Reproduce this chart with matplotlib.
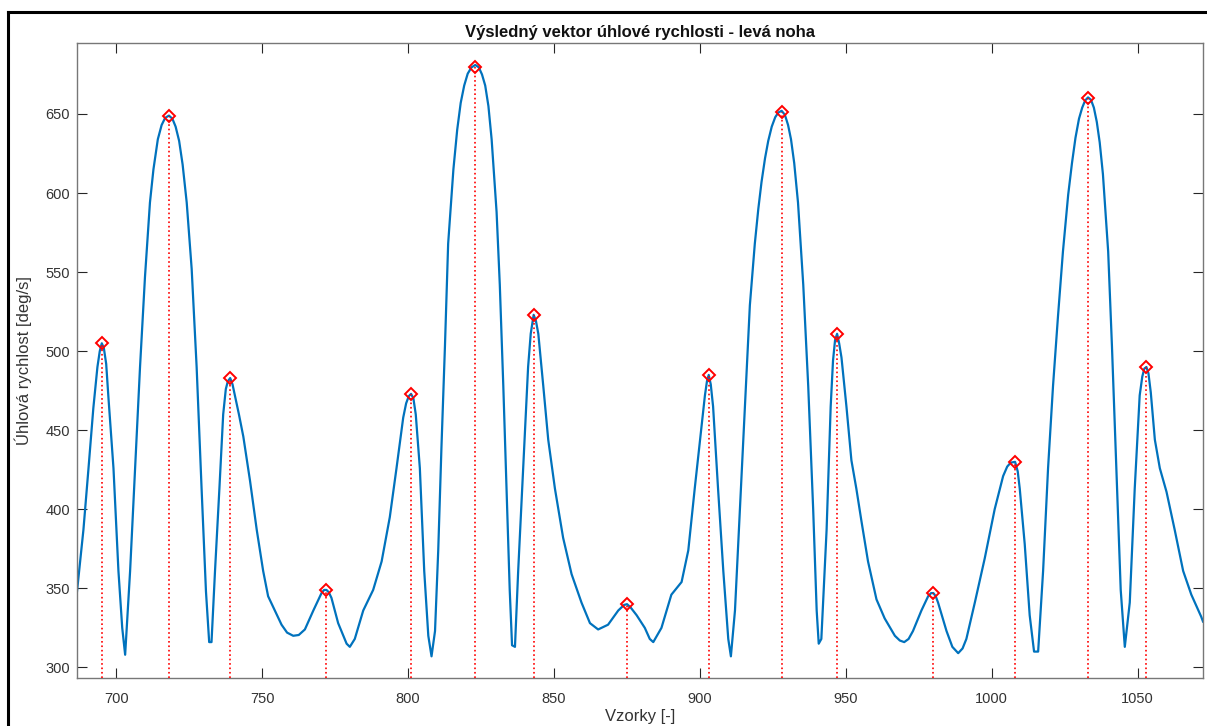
import matplotlib
matplotlib.use("Agg")
import matplotlib.pyplot as plt
from matplotlib.lines import Line2D

plt.rcParams['font.family'] = ['Liberation Sans', 'DejaVu Sans']

# Curve samples: (sample index, angular velocity [deg/s])
curve_points = [
    (686.5, 348), (688.7, 387), (690.4, 425), (692.1, 464), (693.5, 490), (694.3, 500),
    (695, 505), (695.7, 502), (696.5, 492), (697.3, 470), (699, 426), (700.7, 361),
    (702, 325), (703, 308), (704.7, 361), (706.4, 426), (708.1, 490), (709.8, 547),
    (711.5, 594), (712.7, 615), (714.2, 634), (715.5, 643), (716.7, 647.5), (718, 649),
    (719.2, 647), (720.3, 642), (721.5, 633), (722.7, 618), (724.1, 594), (725.8, 552),
    (727.5, 490), (729.2, 413), (730.7, 348), (731.8, 316), (732.6, 316), (733.8, 361),
    (735.3, 413), (736.6, 460), (737.5, 476), (738.2, 481), (739, 483), (739.8, 479),
    (740.6, 472), (742, 460), (743.5, 446), (745.8, 418), (748.1, 387), (750.3, 361),
    (752, 345), (754.3, 336), (756.6, 327), (758.5, 322), (760.6, 320), (762.5, 320.5),
    (764.6, 324), (767.5, 336), (770.3, 347), (771.2, 349), (772, 349), (772.8, 347.5),
    (773.7, 344), (776, 328), (778.9, 315), (780, 313), (781.7, 318), (784.6, 336),
    (788, 349), (790.9, 367), (793.7, 395), (796, 426), (798.3, 458), (799.3, 467),
    (800.2, 471.5), (801, 473), (801.8, 470), (802.6, 460), (804, 426), (805.5, 361),
    (806.9, 320), (808, 307), (809.2, 323), (810.3, 374), (811.4, 439), (812.6, 503),
    (813.7, 568), (815.5, 615), (816.8, 640), (818, 657), (819.2, 668), (820.4, 675.5),
    (821.7, 679.5), (823, 681), (824.2, 679.5), (825.3, 675), (826.4, 668), (827.5, 655),
    (828.6, 634), (830.3, 588), (831.4, 542), (832.6, 478), (833.7, 413), (834.8, 349),
    (835.6, 314), (836.6, 313), (837.7, 361), (839.4, 426), (841.1, 490), (842, 511),
    (843, 523), (843.8, 519), (844.6, 511), (846.3, 478), (848, 444), (850.3, 413),
    (853.1, 382), (856, 359), (859.4, 341), (862.3, 328), (865.1, 324), (868.5, 327),
    (872, 336), (874, 339.5), (875, 340), (876.2, 338), (878.3, 333), (881.1, 325),
    (882.8, 318), (884, 316), (886.8, 325), (890.2, 346), (893.7, 354), (896, 374),
    (898.2, 413), (900.5, 452), (901.7, 472), (902.4, 481), (903, 485), (903.7, 479),
    (904.5, 465), (906.2, 413), (908, 361), (909.7, 318), (910.6, 307), (912, 336),
    (913.7, 400), (915.4, 465), (917.1, 529), (918.8, 568), (920, 590), (921.1, 607),
    (922.3, 622), (923.4, 633), (924.6, 642), (925.8, 648), (926.9, 651), (928, 652),
    (929.1, 649.5), (930.2, 643), (931.2, 634), (932.3, 619), (933.6, 594), (935.4, 542),
    (937.1, 478), (938.8, 400), (940, 336), (940.7, 315), (941.6, 318), (943.4, 387),
    (944.8, 465), (945.6, 494), (946.3, 507), (947, 511), (947.7, 505), (948.5, 496),
    (950.2, 465), (951.9, 431), (953.6, 413), (955.3, 393), (957.6, 367), (960.5, 343),
    (963.3, 331), (966.8, 320), (968.5, 317), (970, 316), (971.5, 318), (973, 323),
    (975.9, 336), (978.2, 345), (979.2, 347), (980, 347), (980.8, 345), (981.6, 341),
    (984.5, 323), (986.5, 313), (988.5, 309), (990, 312), (991.3, 318), (994.2, 341),
    (997.6, 369), (1001, 400), (1003.9, 421), (1005.3, 427), (1006.5, 429.5),
    (1008, 430), (1008.9, 424), (1009.6, 413), (1011.3, 378), (1013, 333), (1014.5, 310),
    (1015.9, 310), (1017.6, 361), (1019.3, 426), (1021, 478), (1022.7, 522),
    (1024.4, 563), (1026.2, 599), (1027.5, 619), (1028.7, 635), (1029.9, 647),
    (1031, 654), (1032, 658.5), (1033, 660.5), (1034, 659), (1035, 654), (1036, 645),
    (1037, 632), (1038.1, 612), (1039.9, 563), (1041.2, 503), (1042.7, 426),
    (1044.2, 349), (1045.6, 313), (1047.3, 341), (1049, 413), (1050.7, 472),
    (1051.6, 484), (1052.3, 489), (1053, 490), (1053.7, 486), (1054.5, 474),
    (1055.9, 444), (1057.6, 426), (1059.9, 411), (1062.7, 387), (1065.6, 361),
    (1068.4, 346), (1071.8, 332), (1072.4, 329),
]
sample_x = [p[0] for p in curve_points]
omega = [p[1] for p in curve_points]

# Detected peaks
peak_x = [695, 718, 739, 772, 801, 823, 843, 875, 903, 928, 947, 980, 1008, 1033, 1053]
peak_y = [505, 649, 483, 349, 473, 680, 523, 340, 485, 651, 511, 347, 430, 660, 490]

title = "Výsledný vektor úhlové rychlosti - levá noha"
xlabel = "Vzorky [-]"
ylabel = "Úhlová rychlost [deg/s]"
xticks = [700, 750, 800, 850, 900, 950, 1000, 1050]
yticks = [300, 350, 400, 450, 500, 550, 600, 650]

W, H = 1207, 726
fig = plt.figure(figsize=(W / 100, H / 100), dpi=100)
ax = fig.add_axes([77 / W, 1 - 678 / H, (1203 - 77) / W, (678 - 43) / H])

ymin, ymax = 293.3, 694.9
ax.set_xlim(686.5, 1072.4)
ax.set_ylim(ymin, ymax)

ax.plot(sample_x, omega, color='#0072BD', lw=1.6, zorder=2,
        solid_joinstyle='round')
ax.vlines(peak_x, ymin, peak_y, colors='red', linestyles=':', lw=1.2, zorder=3)
ax.plot(peak_x, peak_y, linestyle='none', marker='D', markersize=6.5,
        markerfacecolor='none', markeredgecolor='red', markeredgewidth=1.4, zorder=4)

ax.set_xticks(xticks)
ax.set_yticks(yticks)
ax.tick_params(direction='in', length=7, width=0.8, color='#262626',
               labelsize=10.5, labelcolor='#333333', top=True, right=True)
ax.tick_params(axis='x', pad=10)
ax.tick_params(axis='y', pad=5)
for s in ax.spines.values():
    s.set_color('#777777')
    s.set_linewidth(1.0)

ax.set_title(title, fontsize=12, fontweight='bold', color='#111111', pad=4)
ax.set_xlabel(xlabel, fontsize=12, color='#333333', labelpad=2)
ax.set_ylabel(ylabel, fontsize=12, color='#333333', labelpad=10)

# black frame of the screenshot
fig.add_artist(Line2D([8 / W, 8 / W], [0, 1 - 12 / H], color='black', lw=2.2,
                      transform=fig.transFigure))
fig.add_artist(Line2D([8 / W, 1], [1 - 12 / H, 1 - 12 / H], color='black', lw=2.2,
                      transform=fig.transFigure))

fig.savefig("out.png", dpi=100, facecolor='white')
